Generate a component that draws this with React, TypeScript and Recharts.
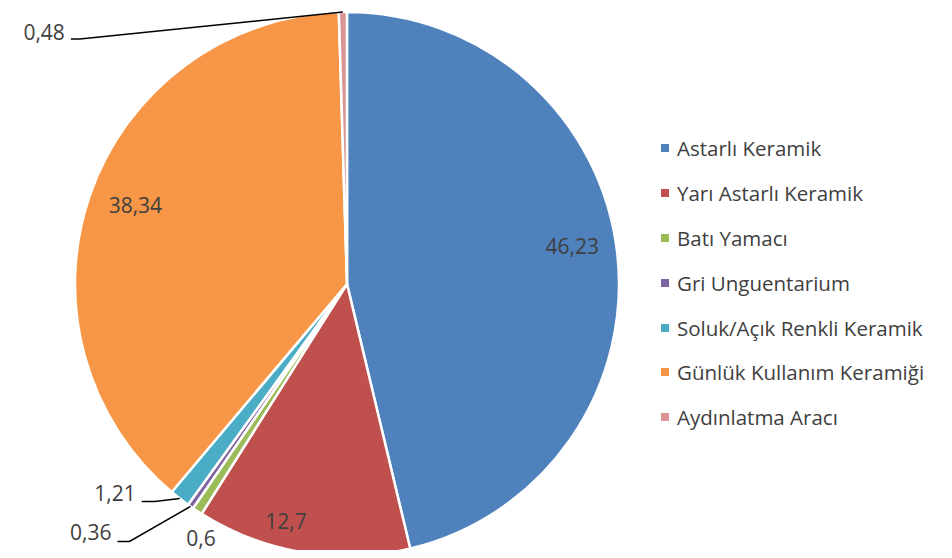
import { PieChart, Pie, Cell, Legend } from 'recharts';

const categories = [
  'Astarlı Keramik',
  'Yarı Astarlı Keramik',
  'Batı Yamacı',
  'Gri Unguentarium',
  'Soluk/Açık Renkli Keramik',
  'Günlük Kullanım Keramiği',
  'Aydınlatma Aracı',
];
const values = [46.23, 12.7, 0.6, 0.36, 1.21, 38.34, 0.48];
const colors = ['#4F81BD', '#C0504D', '#9BBB59', '#8064A2', '#4BACC6', '#F79646', '#D99694'];

const data = categories.map((name, i) => ({ name, value: values[i] }));

const FONT = '"Open Sans", "Noto Sans", sans-serif';
const TEXT = '#404040';

// how each label sits: inside the slice, just outside, or out with a leader line
type Place =
  | { kind: 'in'; r: number; da: number }
  | { kind: 'out'; r: number; da: number }
  | { kind: 'leader'; dx: number; dy: number; h: number; ty: number };

const placement: Place[] = [
  { kind: 'in', r: 0.84, da: -2.8 },
  { kind: 'in', r: 0.9, da: 5 },
  { kind: 'out', r: 1.077, da: -3.5 },
  { kind: 'leader', dx: -61, dy: 35, h: 12, ty: -9 },
  { kind: 'leader', dx: -25, dy: 3, h: 13, ty: -8 },
  { kind: 'in', r: 0.83, da: 1.2 },
  { kind: 'leader', dx: -263, dy: 27, h: 9, ty: -7 },
];

const renderLabel = (props: any) => {
  const { cx, cy, outerRadius, midAngle, index, value } = props;
  const text = String(value).replace('.', ',');
  const p = placement[index];
  const deg = (a: number) => (a * Math.PI) / 180;
  const theta = 90 - midAngle;
  if (p.kind === 'in' || p.kind === 'out') {
    const t = deg(theta + p.da);
    const r = outerRadius * p.r;
    return (
      <text
        x={cx + r * Math.sin(t)}
        y={cy - r * Math.cos(t)}
        textAnchor="middle"
        dominantBaseline="central"
        fill={TEXT}
        fontSize={21}
        fontFamily={FONT}
      >
        {text}
      </text>
    );
  }
  const t = deg(theta);
  const ex = cx + outerRadius * Math.sin(t);
  const ey = cy - outerRadius * Math.cos(t);
  const bx = ex + p.dx;
  const by = ey + p.dy;
  const lx = bx - p.h;
  return (
    <g>
      <polyline points={`${ex},${ey} ${bx},${by} ${lx},${by}`} fill="none" stroke="#000" strokeWidth={1.5} />
      <text
        x={lx - 6}
        y={by + p.ty}
        textAnchor="end"
        dominantBaseline="central"
        fill={TEXT}
        fontSize={21}
        fontFamily={FONT}
      >
        {text}
      </text>
    </g>
  );
};

const renderLegend = () => (
  <div style={{ fontFamily: FONT, fontSize: 20.5, color: TEXT }}>
    {categories.map((name, i) => (
      <div key={name} style={{ height: 44.8, display: 'flex', alignItems: 'center' }}>
        <span style={{ width: 8, height: 8, background: colors[i], display: 'inline-block', marginRight: 8 }} />
        <span style={{ whiteSpace: 'nowrap' }}>{name}</span>
      </div>
    ))}
  </div>
);

export default function App() {
  return (
    <div style={{ position: 'relative', width: 952, height: 558, margin: -8, overflow: 'hidden', background: '#fff' }}>
      <div style={{ position: 'absolute', left: 0, top: 0 }}>
        <PieChart width={952} height={558} margin={{ top: 0, right: 0, bottom: 0, left: 0 }}>
          <Pie
            data={data}
            dataKey="value"
            nameKey="name"
            cx={347}
            cy={284}
            outerRadius={272}
            startAngle={90}
            endAngle={-270}
            stroke="#fff"
            strokeWidth={2.5}
            label={renderLabel}
            labelLine={false}
            isAnimationActive={false}
          >
            {data.map((_, i) => (
              <Cell key={i} fill={colors[i]} />
            ))}
          </Pie>
          <Legend
            content={renderLegend}
            layout="vertical"
            wrapperStyle={{ position: 'absolute', left: 661, top: 126, width: 290, height: 320 }}
          />
        </PieChart>
      </div>
      <div
        style={{
          position: 'absolute',
          left: 6,
          top: 5,
          width: 980,
          height: 600,
          border: '2px solid #D9D9D9',
          boxSizing: 'border-box',
          pointerEvents: 'none',
        }}
      />
    </div>
  );
}
